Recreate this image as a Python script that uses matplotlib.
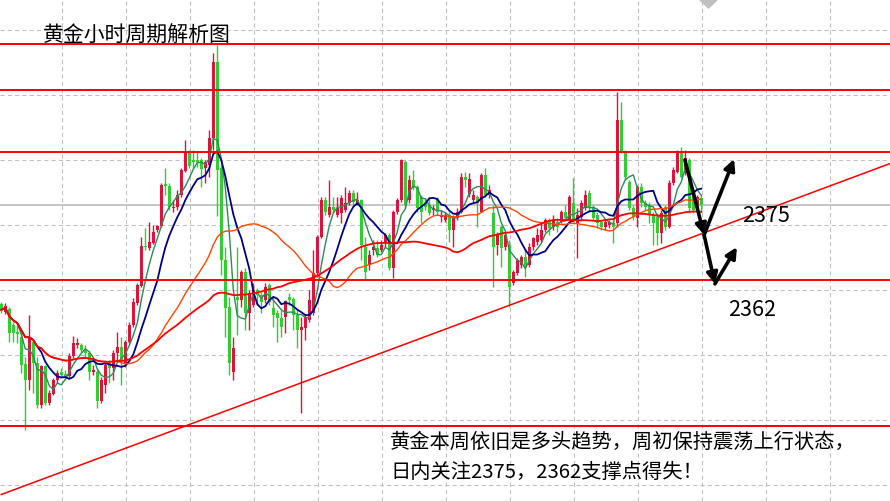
import numpy as np
import pandas as pd
import matplotlib
matplotlib.use("Agg")
import matplotlib.pyplot as plt
from matplotlib.patches import Polygon

plt.rcParams['font.family'] = ['Noto Sans CJK SC', 'DejaVu Sans']

# hourly gold candles (price)
opens = [
    2356.8, 2354.9, 2355.6, 2351.9, 2350.3, 2349.2, 2342.9, 2339.2, 2348.0, 2343.2,
    2333.5, 2342.5, 2333.9, 2336.0, 2339.2, 2341.1, 2340.6, 2340.2, 2344.8, 2347.3,
    2347.3, 2346.2, 2345.5, 2341.1, 2341.1, 2334.4, 2338.1, 2343.2, 2342.0, 2345.5,
    2346.8, 2343.2, 2348.0, 2351.9, 2357.0, 2360.9, 2370.2, 2369.7, 2370.8, 2373.8,
    2374.8, 2384.5, 2384.0, 2378.9, 2379.2, 2381.9, 2387.5, 2391.6, 2390.0, 2390.0,
    2390.0, 2388.2, 2388.8, 2395.1, 2412.6, 2388.2, 2366.9, 2356.1, 2341.1, 2358.4,
    2357.7, 2364.2, 2354.7, 2356.5, 2360.0, 2358.8, 2357.7, 2361.2, 2355.8, 2354.7,
    2353.5, 2353.8, 2358.4, 2357.9, 2354.2, 2350.8, 2351.2, 2353.1, 2354.7, 2363.9,
    2372.2, 2380.8, 2377.3, 2379.2, 2377.3, 2377.8, 2378.5, 2380.1, 2382.4, 2380.1,
    2380.8, 2369.9, 2365.8, 2369.2, 2369.7, 2369.2, 2370.8, 2372.7, 2365.1, 2378.0,
    2380.8, 2389.5, 2380.8, 2385.4, 2383.8, 2381.5, 2380.3, 2379.6, 2378.5, 2380.8,
    2376.8, 2376.2, 2377.3, 2373.8, 2376.6, 2378.0, 2386.1, 2382.2, 2380.8, 2381.5,
    2378.0, 2386.5, 2381.9, 2377.8, 2370.4, 2374.5, 2369.9, 2370.4, 2361.6, 2363.9,
    2365.8, 2367.6, 2365.8, 2369.9, 2371.1, 2371.5, 2373.8, 2376.2, 2374.5, 2375.7,
    2375.7, 2378.0, 2376.2, 2380.1, 2375.5, 2376.8, 2378.9, 2382.4, 2379.2, 2377.3,
    2375.7, 2374.5, 2375.0, 2375.5, 2375.5, 2399.2, 2391.8, 2384.9, 2378.9, 2376.6,
    2383.8, 2380.1, 2379.6, 2377.3, 2376.8, 2373.2, 2379.2, 2374.5, 2384.7, 2387.2,
    2391.6, 2387.0, 2390.0, 2383.1, 2378.5, 2381.2,
]
highs = [
    2357.2, 2357.0, 2356.1, 2352.6, 2352.4, 2350.1, 2344.5, 2354.2, 2348.5, 2344.5,
    2342.7, 2342.7, 2336.9, 2339.7, 2341.5, 2342.0, 2341.5, 2345.5, 2349.4, 2348.9,
    2347.8, 2347.3, 2346.0, 2342.7, 2341.5, 2339.9, 2343.2, 2343.8, 2346.2, 2350.3,
    2349.2, 2348.5, 2352.6, 2358.2, 2361.6, 2372.2, 2374.3, 2375.7, 2375.0, 2375.0,
    2384.7, 2388.2, 2384.7, 2380.8, 2383.1, 2388.2, 2394.6, 2392.3, 2392.3, 2391.8,
    2390.5, 2390.0, 2396.9, 2414.7, 2416.5, 2388.8, 2369.9, 2358.4, 2349.2, 2369.9,
    2364.6, 2365.1, 2360.0, 2361.6, 2360.5, 2359.5, 2361.6, 2361.6, 2358.4, 2355.4,
    2355.4, 2357.7, 2359.3, 2358.4, 2355.4, 2353.8, 2354.5, 2360.0, 2369.2, 2372.7,
    2381.5, 2381.5, 2385.4, 2381.5, 2381.5, 2381.9, 2383.8, 2383.1, 2383.1, 2382.6,
    2381.0, 2372.2, 2369.2, 2371.5, 2371.5, 2371.5, 2373.2, 2373.2, 2378.5, 2381.2,
    2390.2, 2390.0, 2386.5, 2387.7, 2384.2, 2381.9, 2381.2, 2381.5, 2379.6, 2381.5,
    2378.5, 2378.0, 2378.0, 2377.3, 2378.9, 2387.0, 2387.2, 2387.0, 2383.1, 2381.9,
    2387.0, 2388.2, 2384.2, 2379.6, 2373.4, 2375.0, 2373.2, 2371.5, 2364.6, 2367.4,
    2368.1, 2369.2, 2370.8, 2372.2, 2374.3, 2375.7, 2376.6, 2376.6, 2377.3, 2376.6,
    2378.5, 2379.6, 2381.9, 2385.8, 2378.9, 2380.8, 2383.1, 2383.1, 2379.6, 2378.0,
    2376.2, 2376.2, 2376.2, 2376.2, 2405.7, 2403.4, 2392.3, 2385.4, 2379.6, 2384.2,
    2384.7, 2380.8, 2380.3, 2378.0, 2377.8, 2378.5, 2379.6, 2385.4, 2388.4, 2392.3,
    2393.0, 2392.3, 2390.5, 2383.5, 2381.9, 2381.9,
]
lows = [
    2354.7, 2354.5, 2348.0, 2348.0, 2347.8, 2340.8, 2327.7, 2336.9, 2336.2, 2332.8,
    2332.8, 2333.5, 2333.5, 2335.8, 2338.5, 2339.7, 2339.2, 2339.7, 2344.3, 2346.6,
    2345.7, 2344.5, 2339.2, 2340.4, 2332.8, 2333.9, 2336.2, 2338.5, 2339.2, 2343.8,
    2338.1, 2342.2, 2347.8, 2351.5, 2356.5, 2360.7, 2369.2, 2369.2, 2370.6, 2373.4,
    2374.5, 2381.9, 2378.5, 2378.0, 2378.5, 2381.5, 2387.2, 2388.2, 2388.2, 2388.4,
    2383.8, 2384.7, 2386.1, 2392.3, 2377.1, 2363.5, 2349.2, 2340.4, 2339.2, 2349.6,
    2356.1, 2350.8, 2350.8, 2356.1, 2356.5, 2354.7, 2357.0, 2356.5, 2351.5, 2348.0,
    2349.2, 2350.1, 2356.5, 2350.8, 2346.6, 2331.6, 2348.5, 2352.6, 2354.2, 2363.0,
    2372.0, 2377.3, 2376.8, 2377.8, 2376.8, 2375.5, 2378.0, 2379.6, 2379.6, 2379.6,
    2366.9, 2362.3, 2364.6, 2368.1, 2367.6, 2368.8, 2369.9, 2364.6, 2362.8, 2377.5,
    2380.3, 2378.9, 2380.1, 2383.1, 2378.0, 2375.5, 2378.5, 2377.3, 2377.3, 2377.3,
    2375.7, 2375.7, 2371.1, 2369.9, 2376.2, 2377.8, 2383.8, 2381.5, 2380.3, 2374.5,
    2378.0, 2381.5, 2381.2, 2360.7, 2368.1, 2365.3, 2369.2, 2356.1, 2361.2, 2363.5,
    2365.1, 2363.0, 2365.3, 2369.2, 2370.4, 2371.1, 2373.4, 2372.7, 2373.8, 2373.4,
    2375.5, 2376.2, 2376.2, 2375.7, 2367.4, 2376.2, 2378.5, 2378.0, 2376.2, 2374.3,
    2373.8, 2373.8, 2374.3, 2370.8, 2374.5, 2391.6, 2385.4, 2378.5, 2376.2, 2374.5,
    2379.2, 2378.5, 2375.5, 2370.4, 2370.4, 2370.8, 2373.8, 2374.3, 2384.2, 2387.0,
    2385.8, 2386.5, 2377.8, 2378.0, 2378.0, 2378.0,
]
closes = [
    2355.4, 2356.3, 2350.1, 2350.1, 2349.8, 2342.7, 2339.2, 2349.2, 2343.2, 2333.5,
    2342.5, 2333.9, 2336.2, 2339.2, 2340.8, 2340.4, 2340.2, 2344.8, 2347.8, 2347.8,
    2346.2, 2345.5, 2341.1, 2341.5, 2334.4, 2339.2, 2342.7, 2342.0, 2345.5, 2346.8,
    2343.8, 2348.0, 2351.9, 2357.2, 2361.2, 2370.2, 2369.9, 2371.1, 2373.4, 2374.8,
    2384.2, 2384.0, 2379.2, 2379.2, 2381.9, 2387.7, 2391.6, 2388.6, 2389.5, 2389.5,
    2387.9, 2389.5, 2395.1, 2412.6, 2387.7, 2366.9, 2355.8, 2343.2, 2346.6, 2357.7,
    2364.2, 2354.7, 2359.3, 2360.0, 2358.8, 2357.2, 2360.7, 2357.2, 2354.2, 2353.5,
    2351.5, 2357.5, 2357.7, 2354.2, 2350.8, 2351.5, 2353.8, 2357.7, 2363.9, 2372.2,
    2380.8, 2378.0, 2379.2, 2378.5, 2378.9, 2381.2, 2380.1, 2382.4, 2380.3, 2380.8,
    2370.4, 2364.2, 2368.1, 2369.9, 2368.1, 2370.4, 2372.7, 2365.1, 2378.0, 2380.8,
    2390.0, 2379.6, 2385.4, 2383.8, 2378.9, 2378.0, 2379.2, 2377.8, 2378.9, 2378.0,
    2377.3, 2377.3, 2373.8, 2376.8, 2378.0, 2386.1, 2385.4, 2385.6, 2381.9, 2380.1,
    2386.5, 2381.9, 2383.1, 2369.9, 2372.7, 2369.7, 2372.7, 2360.7, 2364.2, 2366.9,
    2367.6, 2365.3, 2369.9, 2372.0, 2372.7, 2373.8, 2376.2, 2374.3, 2376.2, 2374.5,
    2378.0, 2376.6, 2381.5, 2376.2, 2377.3, 2380.1, 2381.9, 2379.2, 2376.6, 2375.5,
    2374.5, 2375.7, 2375.7, 2374.5, 2399.2, 2391.8, 2386.1, 2378.9, 2376.8, 2383.8,
    2380.1, 2379.2, 2377.3, 2375.5, 2373.2, 2377.8, 2374.5, 2384.7, 2387.7, 2391.6,
    2386.1, 2390.5, 2378.9, 2378.5, 2381.5, 2379.6,
]

ma_periods = [5, 10, 30, 60]
ma_colors = ['#2E8B57', '#00008B', '#FF4500', '#FF0000']
ma_widths = [1.0, 1.3, 1.0, 1.3]

levels = [2416.8, 2406.2, 2391.8, 2362.3, 2328.6]
last_price = 2379.6
trend_x = [0, 222]
trend_y = [2312.8, 2389.1]

# arrows drawn on the chart: (start bar, start price, end bar, end price)
arrows = [
    (170.9, 2390.0, 175.7, 2372.7),
    (175.7, 2372.7, 183.2, 2390.2),
    (175.7, 2372.7, 178.4, 2361.4),
    (178.4, 2361.4, 183.9, 2369.9),
]

o = np.array(opens)
h = np.array(highs)
l = np.array(lows)
c = np.array(closes)
x = np.arange(len(c))
up = c >= o
up_col = '#DC143C'
dn_col = '#32CD32'

fig = plt.figure(figsize=(8.9, 5.01), dpi=100)
ax = fig.add_axes([0, 0, 1, 1])
ax.set_xlim(-0.325, 222.175)
ax.set_ylim(2311.3, 2426.9)
ax.axis('off')

# grid
for gx in np.arange(15.175, 222, 16):
    ax.axvline(gx, color='#C0C0C0', lw=0.75, ls=(0, (4, 3)), zorder=0)
for gy in np.arange(2420, 2311, -15):
    ax.axhline(gy, color='#C0C0C0', lw=0.75, ls=(0, (4, 3)), zorder=0)

ax.axhline(last_price, color='#C0C0C0', lw=1.3, zorder=1)

# candles
cols = np.where(up, up_col, dn_col)
ax.vlines(x, l, h, colors=cols, lw=1.0, zorder=2)
body_lo = np.minimum(o, c)
body_h = np.maximum(np.abs(c - o), 0.25)
ax.bar(x, body_h, bottom=body_lo, width=0.68, color=cols, linewidth=0, zorder=3)

# moving averages
s = pd.Series(c)
for p, col, lw in zip(ma_periods, ma_colors, ma_widths):
    ax.plot(x, s.rolling(p, min_periods=1).mean(), color=col, lw=lw, zorder=4)

for lv in levels:
    ax.axhline(lv, color='#FF0000', lw=1.4, zorder=5)
ax.plot(trend_x, trend_y, color='#FF0000', lw=1.1, zorder=5)

for x0, y0, x1, y1 in arrows:
    ax.annotate('', xy=(x1, y1), xytext=(x0, y0),
                arrowprops=dict(arrowstyle='-|>', color='black', lw=2.6,
                                mutation_scale=16, shrinkA=0, shrinkB=0),
                zorder=6)

# shift marker at top
fig.add_artist(Polygon([[700 / 890, 1.0], [717 / 890, 1.0], [708.5 / 890, 1 - 8 / 501]],
                       closed=True, transform=fig.transFigure, color='#C0C0C0'))

fig.text(43 / 890, 1 - 36 / 501, '黄金小时周期解析图', fontsize=15, va='center', ha='left')
fig.text(742 / 890, 1 - 216 / 501, '2375', fontsize=15.5, va='center', ha='left')
fig.text(728 / 890, 1 - 310 / 501, '2362', fontsize=15.5, va='center', ha='left')
fig.text(390 / 890, 1 - 442 / 501, '黄金本周依旧是多头趋势，周初保持震荡上行状态，',
         fontsize=14.6, va='center', ha='left')
fig.text(390 / 890, 1 - 472 / 501, '日内关注2375，2362支撑点得失！',
         fontsize=14.6, va='center', ha='left')

fig.savefig('out.png', dpi=100)
